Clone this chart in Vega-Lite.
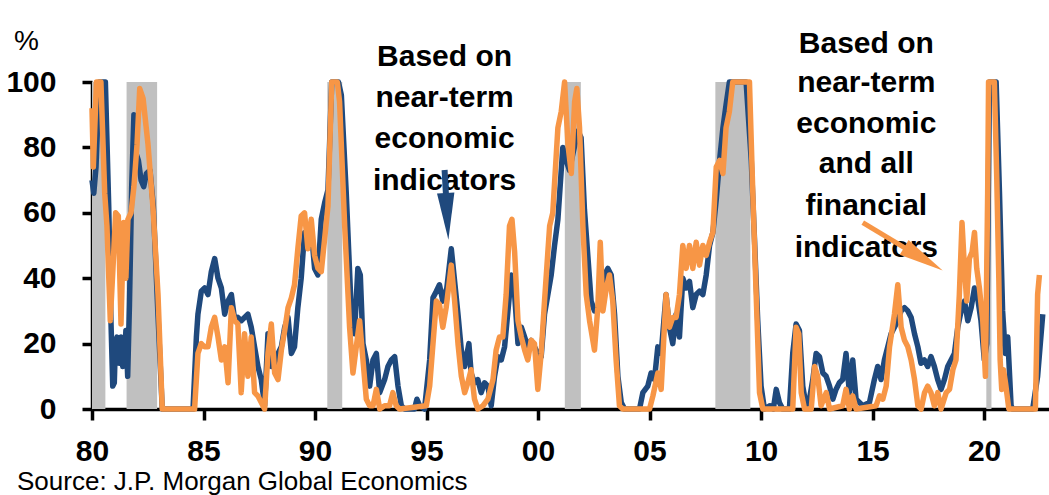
{
  "$schema": "https://vega.github.io/schema/vega-lite/v6.json",
  "width": 959,
  "height": 327,
  "autosize": {"type": "none"},
  "padding": {"left": 92, "top": 82, "right": 0, "bottom": 86},
  "background": "white",
  "config": {"view": {"stroke": null}, "font": "Liberation Sans"},
  "title": {
    "text": "Source: J.P. Morgan Global Economics",
    "orient": "bottom",
    "anchor": "start",
    "frame": "group",
    "dx": -75,
    "offset": 3,
    "font": "Liberation Sans",
    "fontSize": 26,
    "fontWeight": "normal",
    "color": "black"
  },
  "datasets": {
    "recessions": [
      {"start": 1980.0, "end": 1980.6},
      {"start": 1981.55, "end": 1982.92},
      {"start": 1990.55, "end": 1991.22},
      {"start": 2001.2, "end": 2001.92},
      {"start": 2007.95, "end": 2009.52},
      {"start": 2020.1, "end": 2020.33}
    ],
    "economic": [
      {"d":1980.00,"v":70},{"d":1980.08,"v":66},{"d":1980.18,"v":74},{"d":1980.32,"v":100},{"d":1980.60,"v":100},{"d":1980.75,"v":62},{"d":1980.85,"v":27},{"d":1980.93,"v":7},{"d":1981.00,"v":8},{"d":1981.05,"v":20},{"d":1981.12,"v":22},{"d":1981.22,"v":14},{"d":1981.30,"v":22},{"d":1981.38,"v":13},{"d":1981.45,"v":15},{"d":1981.52,"v":24},{"d":1981.60,"v":10},{"d":1981.68,"v":32},{"d":1981.78,"v":68},{"d":1981.88,"v":90},{"d":1981.98,"v":78},{"d":1982.08,"v":76},{"d":1982.20,"v":70},{"d":1982.32,"v":68},{"d":1982.44,"v":72},{"d":1982.60,"v":73},{"d":1982.75,"v":62},{"d":1982.95,"v":30},{"d":1983.15,"v":0},{"d":1984.53,"v":0},{"d":1984.68,"v":22},{"d":1984.75,"v":29},{"d":1984.90,"v":36},{"d":1985.05,"v":37},{"d":1985.20,"v":35},{"d":1985.35,"v":42},{"d":1985.50,"v":46},{"d":1985.65,"v":40},{"d":1985.80,"v":37},{"d":1985.95,"v":29},{"d":1986.10,"v":33},{"d":1986.25,"v":35},{"d":1986.40,"v":27},{"d":1986.54,"v":28},{"d":1986.69,"v":27},{"d":1986.84,"v":28},{"d":1986.99,"v":29},{"d":1987.14,"v":25},{"d":1987.29,"v":19},{"d":1987.44,"v":13},{"d":1987.59,"v":9},{"d":1987.74,"v":1},{"d":1987.89,"v":23},{"d":1988.04,"v":13},{"d":1988.19,"v":14},{"d":1988.34,"v":17},{"d":1988.49,"v":19},{"d":1988.64,"v":25},{"d":1988.79,"v":28},{"d":1988.94,"v":17},{"d":1989.08,"v":19},{"d":1989.23,"v":31},{"d":1989.38,"v":40},{"d":1989.53,"v":54},{"d":1989.68,"v":50},{"d":1989.83,"v":55},{"d":1989.98,"v":43},{"d":1990.13,"v":41},{"d":1990.28,"v":58},{"d":1990.43,"v":63},{"d":1990.58,"v":67},{"d":1990.75,"v":100},{"d":1991.05,"v":100},{"d":1991.18,"v":96},{"d":1991.40,"v":66},{"d":1991.63,"v":29},{"d":1991.77,"v":23},{"d":1991.92,"v":43},{"d":1992.03,"v":41},{"d":1992.15,"v":20},{"d":1992.30,"v":15},{"d":1992.45,"v":7},{"d":1992.60,"v":15},{"d":1992.75,"v":17},{"d":1992.90,"v":5},{"d":1993.12,"v":9},{"d":1993.27,"v":13},{"d":1993.42,"v":15},{"d":1993.57,"v":16},{"d":1993.72,"v":7},{"d":1993.87,"v":1},{"d":1994.02,"v":0},{"d":1994.46,"v":0},{"d":1994.57,"v":3},{"d":1994.69,"v":1},{"d":1994.91,"v":0},{"d":1995.14,"v":15},{"d":1995.29,"v":34},{"d":1995.44,"v":36},{"d":1995.58,"v":38},{"d":1995.73,"v":33},{"d":1995.91,"v":37},{"d":1996.11,"v":49},{"d":1996.26,"v":39},{"d":1996.41,"v":29},{"d":1996.56,"v":18},{"d":1996.71,"v":13},{"d":1996.90,"v":20},{"d":1997.00,"v":11},{"d":1997.15,"v":8},{"d":1997.30,"v":9},{"d":1997.45,"v":5},{"d":1997.60,"v":8},{"d":1997.75,"v":7},{"d":1997.90,"v":1},{"d":1998.05,"v":10},{"d":1998.20,"v":16},{"d":1998.35,"v":15},{"d":1998.50,"v":19},{"d":1998.65,"v":30},{"d":1998.80,"v":41},{"d":1998.95,"v":35},{"d":1999.10,"v":20},{"d":1999.25,"v":25},{"d":1999.40,"v":22},{"d":1999.54,"v":19},{"d":1999.69,"v":21},{"d":1999.84,"v":19},{"d":1999.99,"v":17},{"d":2000.14,"v":16},{"d":2000.29,"v":29},{"d":2000.44,"v":35},{"d":2000.59,"v":41},{"d":2000.74,"v":50},{"d":2000.89,"v":58},{"d":2001.11,"v":80},{"d":2001.26,"v":76},{"d":2001.41,"v":73},{"d":2001.56,"v":78},{"d":2001.79,"v":85},{"d":2001.93,"v":83},{"d":2002.08,"v":61},{"d":2002.23,"v":47},{"d":2002.38,"v":33},{"d":2002.53,"v":30},{"d":2002.68,"v":31},{"d":2002.83,"v":33},{"d":2002.98,"v":41},{"d":2003.13,"v":43},{"d":2003.28,"v":41},{"d":2003.43,"v":29},{"d":2003.58,"v":10},{"d":2003.73,"v":2},{"d":2003.88,"v":0},{"d":2004.55,"v":0},{"d":2004.70,"v":5},{"d":2004.92,"v":7},{"d":2005.07,"v":11},{"d":2005.22,"v":9},{"d":2005.37,"v":19},{"d":2005.52,"v":17},{"d":2005.74,"v":35},{"d":2005.89,"v":25},{"d":2006.04,"v":20},{"d":2006.19,"v":29},{"d":2006.34,"v":22},{"d":2006.49,"v":40},{"d":2006.64,"v":37},{"d":2006.79,"v":39},{"d":2006.94,"v":31},{"d":2007.09,"v":35},{"d":2007.24,"v":36},{"d":2007.39,"v":35},{"d":2007.54,"v":41},{"d":2007.69,"v":50},{"d":2007.84,"v":54},{"d":2007.99,"v":64},{"d":2008.14,"v":76},{"d":2008.29,"v":86},{"d":2008.43,"v":93},{"d":2008.58,"v":100},{"d":2009.33,"v":100},{"d":2009.56,"v":76},{"d":2009.71,"v":51},{"d":2009.85,"v":27},{"d":2010.00,"v":7},{"d":2010.15,"v":0},{"d":2010.40,"v":1},{"d":2010.55,"v":0},{"d":2010.68,"v":6},{"d":2010.82,"v":2},{"d":2010.97,"v":0},{"d":2011.27,"v":0},{"d":2011.42,"v":17},{"d":2011.57,"v":26},{"d":2011.72,"v":24},{"d":2011.87,"v":7},{"d":2012.02,"v":1},{"d":2012.17,"v":3},{"d":2012.32,"v":9},{"d":2012.47,"v":17},{"d":2012.62,"v":16},{"d":2012.77,"v":11},{"d":2012.92,"v":10},{"d":2013.07,"v":7},{"d":2013.22,"v":3},{"d":2013.36,"v":6},{"d":2013.51,"v":8},{"d":2013.66,"v":9},{"d":2013.81,"v":17},{"d":2013.96,"v":5},{"d":2014.11,"v":15},{"d":2014.26,"v":3},{"d":2014.56,"v":1},{"d":2014.86,"v":2},{"d":2015.08,"v":9},{"d":2015.23,"v":13},{"d":2015.38,"v":9},{"d":2015.53,"v":15},{"d":2015.68,"v":19},{"d":2015.83,"v":23},{"d":2015.98,"v":25},{"d":2016.13,"v":27},{"d":2016.28,"v":30},{"d":2016.43,"v":31},{"d":2016.58,"v":30},{"d":2016.73,"v":28},{"d":2016.88,"v":23},{"d":2017.03,"v":19},{"d":2017.17,"v":14},{"d":2017.32,"v":15},{"d":2017.47,"v":13},{"d":2017.62,"v":16},{"d":2017.77,"v":13},{"d":2017.92,"v":9},{"d":2018.07,"v":6},{"d":2018.22,"v":9},{"d":2018.37,"v":13},{"d":2018.52,"v":15},{"d":2018.67,"v":17},{"d":2018.82,"v":25},{"d":2018.97,"v":30},{"d":2019.12,"v":33},{"d":2019.27,"v":27},{"d":2019.42,"v":31},{"d":2019.57,"v":37},{"d":2019.71,"v":34},{"d":2019.86,"v":27},{"d":2020.01,"v":15},{"d":2020.12,"v":20},{"d":2020.24,"v":100},{"d":2020.54,"v":100},{"d":2020.69,"v":66},{"d":2020.83,"v":30},{"d":2020.95,"v":17},{"d":2021.06,"v":22},{"d":2021.21,"v":1},{"d":2021.28,"v":0},{"d":2022.18,"v":0},{"d":2022.40,"v":10},{"d":2022.63,"v":29}
    ],
    "financial": [
      {"d":1980.00,"v":92},{"d":1980.06,"v":74},{"d":1980.20,"v":100},{"d":1980.40,"v":100},{"d":1980.57,"v":66},{"d":1980.67,"v":56},{"d":1980.82,"v":27},{"d":1980.94,"v":43},{"d":1981.06,"v":60},{"d":1981.18,"v":59},{"d":1981.30,"v":26},{"d":1981.42,"v":57},{"d":1981.52,"v":40},{"d":1981.61,"v":58},{"d":1981.75,"v":60},{"d":1981.88,"v":68},{"d":1982.02,"v":81},{"d":1982.14,"v":98},{"d":1982.29,"v":95},{"d":1982.51,"v":81},{"d":1982.74,"v":61},{"d":1982.96,"v":35},{"d":1983.15,"v":0},{"d":1984.60,"v":0},{"d":1984.75,"v":17},{"d":1984.90,"v":20},{"d":1985.05,"v":19},{"d":1985.20,"v":19},{"d":1985.35,"v":25},{"d":1985.50,"v":28},{"d":1985.65,"v":22},{"d":1985.80,"v":15},{"d":1985.95,"v":19},{"d":1986.10,"v":8},{"d":1986.25,"v":31},{"d":1986.40,"v":27},{"d":1986.54,"v":26},{"d":1986.69,"v":5},{"d":1986.84,"v":23},{"d":1986.99,"v":10},{"d":1987.14,"v":22},{"d":1987.29,"v":5},{"d":1987.44,"v":4},{"d":1987.59,"v":2},{"d":1987.74,"v":0},{"d":1987.89,"v":17},{"d":1988.04,"v":26},{"d":1988.19,"v":11},{"d":1988.34,"v":9},{"d":1988.49,"v":18},{"d":1988.64,"v":24},{"d":1988.79,"v":31},{"d":1988.94,"v":34},{"d":1989.08,"v":38},{"d":1989.23,"v":49},{"d":1989.38,"v":59},{"d":1989.53,"v":60},{"d":1989.68,"v":49},{"d":1989.83,"v":58},{"d":1989.98,"v":47},{"d":1990.13,"v":43},{"d":1990.28,"v":42},{"d":1990.43,"v":52},{"d":1990.58,"v":62},{"d":1990.75,"v":100},{"d":1991.00,"v":100},{"d":1991.10,"v":94},{"d":1991.33,"v":56},{"d":1991.55,"v":25},{"d":1991.70,"v":11},{"d":1991.85,"v":19},{"d":1992.00,"v":27},{"d":1992.15,"v":15},{"d":1992.30,"v":3},{"d":1992.45,"v":1},{"d":1992.60,"v":1},{"d":1992.75,"v":6},{"d":1992.90,"v":0},{"d":1993.12,"v":1},{"d":1993.34,"v":1},{"d":1993.49,"v":5},{"d":1993.64,"v":1},{"d":1993.79,"v":0},{"d":1994.99,"v":1},{"d":1995.14,"v":7},{"d":1995.29,"v":20},{"d":1995.44,"v":33},{"d":1995.58,"v":32},{"d":1995.73,"v":25},{"d":1995.88,"v":31},{"d":1996.11,"v":44},{"d":1996.26,"v":33},{"d":1996.41,"v":20},{"d":1996.56,"v":10},{"d":1996.71,"v":5},{"d":1996.85,"v":8},{"d":1997.00,"v":12},{"d":1997.15,"v":3},{"d":1997.30,"v":0},{"d":1997.53,"v":1},{"d":1997.75,"v":3},{"d":1997.98,"v":9},{"d":1998.12,"v":18},{"d":1998.27,"v":22},{"d":1998.42,"v":22},{"d":1998.57,"v":35},{"d":1998.72,"v":56},{"d":1998.83,"v":58},{"d":1998.95,"v":48},{"d":1999.10,"v":27},{"d":1999.25,"v":22},{"d":1999.40,"v":18},{"d":1999.54,"v":15},{"d":1999.69,"v":21},{"d":1999.84,"v":20},{"d":1999.99,"v":6},{"d":2000.14,"v":17},{"d":2000.29,"v":33},{"d":2000.52,"v":56},{"d":2000.66,"v":60},{"d":2000.89,"v":86},{"d":2001.04,"v":91},{"d":2001.19,"v":100},{"d":2001.34,"v":81},{"d":2001.49,"v":72},{"d":2001.64,"v":94},{"d":2001.74,"v":98},{"d":2001.86,"v":86},{"d":2002.01,"v":56},{"d":2002.16,"v":35},{"d":2002.31,"v":27},{"d":2002.53,"v":18},{"d":2002.68,"v":31},{"d":2002.79,"v":51},{"d":2002.91,"v":30},{"d":2003.06,"v":37},{"d":2003.20,"v":41},{"d":2003.35,"v":33},{"d":2003.50,"v":15},{"d":2003.65,"v":1},{"d":2003.80,"v":0},{"d":2005.00,"v":0},{"d":2005.15,"v":4},{"d":2005.37,"v":11},{"d":2005.52,"v":6},{"d":2005.74,"v":35},{"d":2005.89,"v":25},{"d":2006.04,"v":28},{"d":2006.19,"v":28},{"d":2006.34,"v":35},{"d":2006.49,"v":50},{"d":2006.64,"v":43},{"d":2006.79,"v":50},{"d":2006.94,"v":43},{"d":2007.09,"v":51},{"d":2007.24,"v":44},{"d":2007.39,"v":50},{"d":2007.54,"v":47},{"d":2007.69,"v":51},{"d":2007.84,"v":54},{"d":2007.99,"v":74},{"d":2008.14,"v":76},{"d":2008.29,"v":72},{"d":2008.43,"v":86},{"d":2008.58,"v":91},{"d":2008.73,"v":100},{"d":2009.48,"v":100},{"d":2009.63,"v":66},{"d":2009.78,"v":35},{"d":2009.93,"v":5},{"d":2010.08,"v":0},{"d":2011.42,"v":0},{"d":2011.57,"v":25},{"d":2011.69,"v":23},{"d":2011.80,"v":5},{"d":2011.95,"v":0},{"d":2012.25,"v":0},{"d":2012.40,"v":13},{"d":2012.54,"v":10},{"d":2012.69,"v":1},{"d":2012.92,"v":5},{"d":2013.07,"v":0},{"d":2013.66,"v":1},{"d":2013.81,"v":6},{"d":2013.96,"v":0},{"d":2014.11,"v":4},{"d":2014.26,"v":0},{"d":2015.16,"v":1},{"d":2015.31,"v":4},{"d":2015.46,"v":3},{"d":2015.61,"v":7},{"d":2015.76,"v":19},{"d":2015.98,"v":29},{"d":2016.13,"v":38},{"d":2016.28,"v":25},{"d":2016.43,"v":21},{"d":2016.58,"v":19},{"d":2016.73,"v":15},{"d":2016.88,"v":9},{"d":2017.03,"v":1},{"d":2017.18,"v":0},{"d":2017.33,"v":5},{"d":2017.47,"v":7},{"d":2017.62,"v":5},{"d":2017.77,"v":1},{"d":2017.92,"v":5},{"d":2018.07,"v":0},{"d":2018.30,"v":5},{"d":2018.45,"v":6},{"d":2018.60,"v":12},{"d":2018.74,"v":15},{"d":2018.89,"v":35},{"d":2019.01,"v":57},{"d":2019.12,"v":43},{"d":2019.22,"v":33},{"d":2019.34,"v":46},{"d":2019.46,"v":48},{"d":2019.57,"v":54},{"d":2019.67,"v":43},{"d":2019.79,"v":37},{"d":2019.94,"v":27},{"d":2020.06,"v":10},{"d":2020.16,"v":66},{"d":2020.20,"v":100},{"d":2020.46,"v":100},{"d":2020.57,"v":70},{"d":2020.66,"v":40},{"d":2020.72,"v":15},{"d":2020.79,"v":6},{"d":2020.87,"v":12},{"d":2020.96,"v":8},{"d":2021.11,"v":0},{"d":2022.30,"v":0},{"d":2022.40,"v":35},{"d":2022.48,"v":41}
    ],
    "notes": [
      {"x": 1995.81, "y": 104.9, "t": "Based on"},
      {"x": 1995.81, "y": 92.3, "t": "near-term"},
      {"x": 1995.81, "y": 79.7, "t": "economic"},
      {"x": 1995.81, "y": 67.1, "t": "indicators"},
      {"x": 2014.72, "y": 108.8, "t": "Based on"},
      {"x": 2014.72, "y": 97.0, "t": "near-term"},
      {"x": 2014.72, "y": 84.4, "t": "economic"},
      {"x": 2014.72, "y": 72.2, "t": "and all"},
      {"x": 2014.72, "y": 59.4, "t": "financial"},
      {"x": 2014.72, "y": 46.6, "t": "indicators"}
    ]
  },
  "layer": [
    {
      "data": {"name": "recessions"},
      "mark": {"type": "rect", "color": "#c0c0c0"},
      "encoding": {
        "x": {
          "field": "start", "type": "quantitative", "title": null,
          "scale": {"domain": [1980, 2023], "nice": false, "zero": false},
          "axis": {
            "values": [1980, 1985, 1990, 1995, 2000, 2005, 2010, 2015, 2020],
            "labelExpr": "substring(toString(datum.value), 2, 4)",
            "labelFont": "Liberation Sans", "labelFontWeight": "bold", "labelFontSize": 30,
            "labelColor": "black", "labelPadding": 16, "labelFlush": false, "labelOverlap": false,
            "tickSize": 11, "tickWidth": 3.5, "tickColor": "black",
            "domainColor": "black", "domainWidth": 3.5, "grid": false
          }
        },
        "x2": {"field": "end"},
        "y": {
          "datum": 0, "type": "quantitative", "title": "%",
          "scale": {"domain": [0, 100], "nice": false},
          "axis": {
            "values": [0, 20, 40, 60, 80, 100],
            "labelFont": "Liberation Sans", "labelFontWeight": "bold", "labelFontSize": 30,
            "labelColor": "black", "labelPadding": 26, "labelFlush": false,
            "tickSize": 10, "tickWidth": 3.5, "tickColor": "black",
            "domainColor": "black", "domainWidth": 3.5, "grid": false,
            "titleAngle": 0, "titleX": -66, "titleY": -41, "titleAlign": "center",
            "titleBaseline": "middle", "titleFont": "Liberation Sans", "titleFontSize": 28,
            "titleFontWeight": "normal", "titleColor": "black"
          }
        },
        "y2": {"datum": 100}
      }
    },
    {
      "data": {"name": "economic"},
      "mark": {"type": "line", "color": "#1f497d", "strokeWidth": 5.5, "strokeJoin": "round"},
      "encoding": {
        "x": {"field": "d", "type": "quantitative", "title": null},
        "y": {"field": "v", "type": "quantitative", "title": "%"}
      }
    },
    {
      "data": {"name": "financial"},
      "mark": {"type": "line", "color": "#f79646", "strokeWidth": 5.5, "strokeJoin": "round"},
      "encoding": {
        "x": {"field": "d", "type": "quantitative", "title": null},
        "y": {"field": "v", "type": "quantitative", "title": "%"}
      }
    },
    {
      "data": {"name": "notes"},
      "mark": {"type": "text", "font": "Liberation Sans", "fontWeight": "bold", "fontSize": 30, "color": "black", "align": "center", "baseline": "alphabetic"},
      "encoding": {
        "x": {"field": "x", "type": "quantitative", "title": null},
        "y": {"field": "y", "type": "quantitative", "title": "%"},
        "text": {"field": "t"}
      }
    },
    {
      "data": {"values": [{"x": 1995.81, "y": 73.1, "x2": 1995.90, "y2": 62.0}]},
      "mark": {"type": "rule", "color": "#1f497d", "strokeWidth": 6},
      "encoding": {
        "x": {"field": "x", "type": "quantitative", "title": null},
        "y": {"field": "y", "type": "quantitative", "title": "%"},
        "x2": {"field": "x2"},
        "y2": {"field": "y2"}
      }
    },
    {
      "data": {"values": [{"x": 1995.92, "y": 58.9}]},
      "mark": {"type": "point", "shape": "M-1,-0.37L1,0L-1,0.37Z", "filled": true, "color": "#1f497d", "opacity": 1, "size": 2209, "angle": 86.7},
      "encoding": {
        "x": {"field": "x", "type": "quantitative", "title": null},
        "y": {"field": "y", "type": "quantitative", "title": "%"}
      }
    },
    {
      "data": {"values": [{"x": 2014.56, "y": 57.0, "x2": 2016.65, "y2": 48.4}]},
      "mark": {"type": "rule", "color": "#f79646", "strokeWidth": 5},
      "encoding": {
        "x": {"field": "x", "type": "quantitative", "title": null},
        "y": {"field": "y", "type": "quantitative", "title": "%"},
        "x2": {"field": "x2"},
        "y2": {"field": "y2"}
      }
    },
    {
      "data": {"values": [{"x": 2017.28, "y": 45.9}]},
      "mark": {"type": "point", "shape": "M-1,-0.38L1,0L-1,0.38Z", "filled": true, "color": "#f79646", "opacity": 1, "size": 2025, "angle": 31},
      "encoding": {
        "x": {"field": "x", "type": "quantitative", "title": null},
        "y": {"field": "y", "type": "quantitative", "title": "%"}
      }
    }
  ]
}
